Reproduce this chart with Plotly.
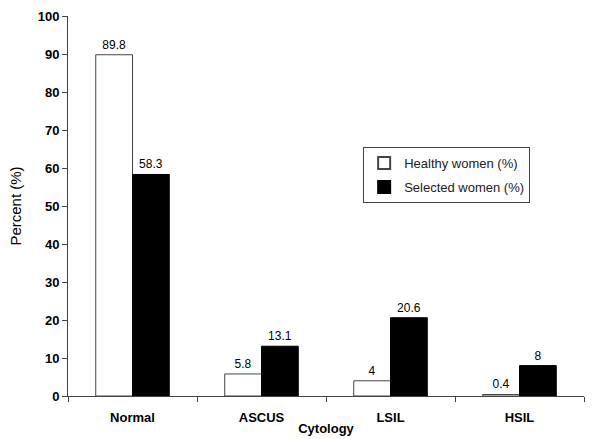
import plotly.graph_objects as go

categories = ["Normal", "ASCUS", "LSIL", "HSIL"]
healthy = [89.8, 5.8, 4, 0.4]
selected = [58.3, 13.1, 20.6, 8]
y_ticks = [0, 10, 20, 30, 40, 50, 60, 70, 80, 90, 100]

label_font = dict(family="Liberation Sans, Arial, sans-serif", size=12, color="black")
bold_font = dict(family="Liberation Sans Narrow, Arial Narrow, sans-serif", size=13, color="black", weight="bold")

fig = go.Figure()
fig.add_trace(go.Bar(
    x=categories, y=healthy, name="Healthy women (%)", legendgroup="a",
    marker=dict(color="white", line=dict(color="#444444", width=1)),
    text=[f"{v:g}" for v in healthy], textposition="outside",
    textfont=label_font, cliponaxis=False,
))
fig.add_trace(go.Bar(
    x=categories, y=selected, name="Selected women (%)", legendgroup="b",
    marker=dict(color="black", line=dict(color="black", width=1)),
    text=[f"{v:g}" for v in selected], textposition="outside",
    textfont=label_font, cliponaxis=False,
))

fig.update_layout(
    width=597, height=439,
    margin=dict(l=68, r=13, t=16, b=43),
    paper_bgcolor="white", plot_bgcolor="white",
    barmode="group", bargap=0.43, bargroupgap=0,
    showlegend=True,
    legend=dict(
        x=0.572, y=0.655, xanchor="left", yanchor="top",
        bordercolor="#444444", borderwidth=1, bgcolor="white",
        font=dict(family="Liberation Sans, Arial, sans-serif", size=13, color="#222222"),
        itemsizing="constant", tracegroupgap=4,
    ),
    xaxis=dict(
        type="category", tickson="boundaries", ticks="outside", ticklen=5,
        tickcolor="#444444", showline=True, linecolor="#444444", linewidth=1,
        tickfont=bold_font, showgrid=False, ticklabelstandoff=9,
        automargin=False,
        title=dict(text="<b>Cytology</b>", font=bold_font, standoff=0),
    ),
    yaxis=dict(
        range=[0, 100], tickvals=y_ticks, ticks="outside", ticklen=5,
        tickcolor="#444444", showline=True, linecolor="#444444", linewidth=1,
        tickfont=bold_font, showgrid=False, zeroline=False, automargin=False,
        title=dict(text="Percent (%)", font=dict(family="Liberation Sans, Arial, sans-serif", size=15, color="black"), standoff=12),
    ),
)

fig.write_html("out.html")
